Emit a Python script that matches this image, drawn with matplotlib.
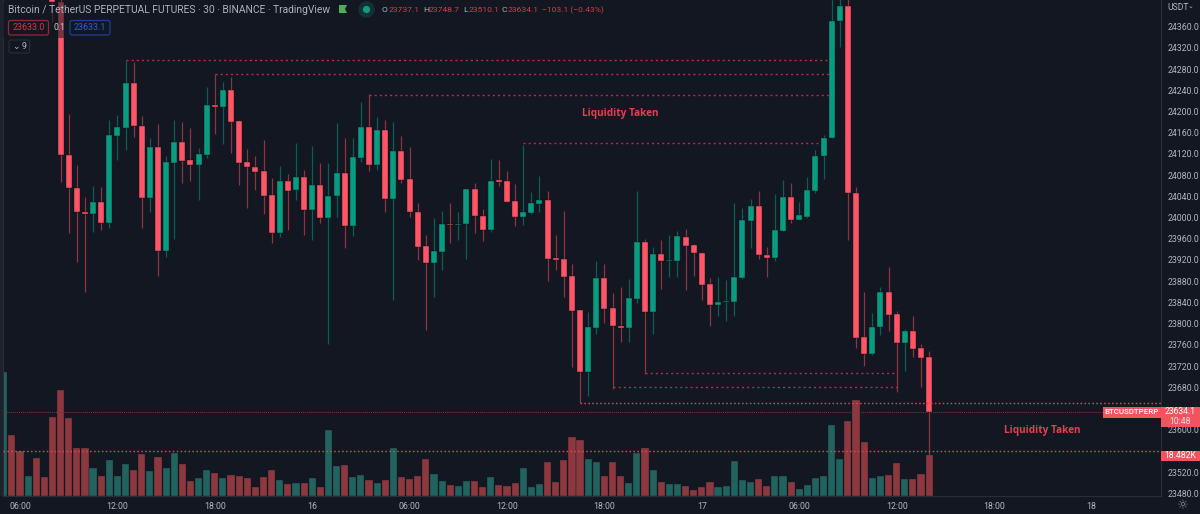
import numpy as np
import matplotlib
matplotlib.use("Agg")
import matplotlib.pyplot as plt
from matplotlib.patches import Rectangle, Polygon, FancyBboxPatch

plt.rcParams['font.family'] = ['Roboto', 'DejaVu Sans']

# --- data -----------------------------------------------------------------
first_bar = -2          # bar number of the first volume column (0 = 06:00)
first_candle = 4        # first candle that reaches the visible price range

opens = [24420,24407,24117.8,24055,24010.2,24007.1,24028.5,23989.5,24154.3,24169.4,24253,24173.2,24036,24132.9,23936.7,24103.3,24141.7,24108.4,24098.3,24117.8,24211.5,24208.4,24240.5,24182,24104,24095.8,24087,24042.3,23971.3,24069.4,24051.1,24075.7,24013.4,24060.6,23998.9,24039.8,24084.5,23983.8,24112.2,24170.6,24098.3,24165.6,24034.8,24125.4,24071.9,24010.9,23946.1,23913.4,23934.8,23988.2,23985.1,23987.6,24053.6,24003.3,23976.3,24070,24069.4,24030.4,24000.8,24008.4,24024.7,24032.3,23922.8,23922.2,23889.5,23825.3,23708.9,23792.6,23886.3,23828.5,23796.4,23791.4,23847.3,23953.6,23821.6,23931,23918.4,23918.4,23963.7,23948,23933.5,23873.8,23835.4,23840.4,23841,23886.3,23993.9,24021,23929.7,23923.5,23975,24037.9,23994.5,24001.4,24049.9,24116.6,24149.9,24370.7,24399,24046.7,23773.8,23743,23793.9,23858.7,23817.2,23764.3,23785.7,23753.6,23737.1]
closes = [24407,24117.8,24055,24009.6,24007.1,24028.5,23989.5,24155.6,24170.6,24253,24171.9,24036,24132.9,23936.7,24104,24141.7,24107.1,24098.3,24119.1,24211.5,24209,24240.5,24180.7,24103.3,24095.2,24086.4,24041.1,23971.3,24069.4,24050.5,24075.7,24013.4,24060.6,23998.3,24040.4,24084.5,23983.8,24113.4,24170.6,24099,24165.6,24034.8,24125.4,24070.6,24009.6,23944.8,23913.4,23936,23988.2,23985.1,23988.2,24053.6,24002.1,23976.3,24069.4,24067.5,24029.8,24000.8,24009.6,24026.6,24032.3,23922.2,23919.7,23888.2,23824,23708.9,23793.9,23886.3,23827.2,23795.1,23791.4,23848.6,23953.6,23821.6,23931,23917.2,23919.7,23965,23946.1,23932.3,23872.5,23835.4,23841,23842.3,23887,23994.5,24021,23929.1,23923.5,23975.6,24037.9,23995.2,24004.6,24051.1,24116.6,24150.5,24371.3,24399,24046.7,23772.5,23743,23794.5,23858.7,23816.5,23764.3,23785.7,23753,23735.4,23634.1]
highs = [24425,24420,24195.2,24099,24038,24059.3,24058,24183.9,24193.3,24297,24294,24191.4,24149.3,24175.7,24116,24183.9,24180.7,24168.1,24130.4,24245.5,24270.7,24256.2,24264.4,24183.9,24128.5,24116,24146.1,24073.8,24097,24082,24139.8,24089.5,24134.8,24102,24103.3,24177.6,24149.3,24149.3,24218.5,24232.9,24188.9,24183.9,24180.7,24154.3,24133.5,24026.6,23966.9,23998.3,24012.2,24027.2,24009.6,24053.6,24065.6,24016,24110.3,24108.4,24087.6,24063.1,24136.7,24048,24078.2,24049.9,23966.9,24012.2,23911.5,23825.3,23822.2,23917.2,23912.1,23858,23869.4,23883.2,24049.9,23958.7,23943.6,23957.4,23966.2,23975,23977.5,23949.9,23934.8,23885.7,23888.2,23881.9,24026.6,24017.2,24034.8,24049.9,23944.8,24043.6,24070.6,24065.6,24029.8,24077,24127.2,24155.6,24416.6,24425,24425,24056.8,23860,23819.7,23868.1,23907.1,23824,23790.7,23814.6,23761.2,23748.7]
lows = [24369.4,24067.5,23970,23916,23860,23973.2,23976.3,23980.7,24108.4,24127.2,24152.4,23979.4,24009.6,23890.1,23926,23958.7,24064.4,24069.4,24032.9,24111.5,24157.4,24138.6,24122.2,24061.2,24017.2,24051.8,24005.8,23951.1,23963.7,23976.3,24032.9,23966.9,23957.4,23990.1,23762.4,24001.4,23943,23965,24105.2,24088.2,24089.5,24009.6,23844.2,24064.4,24001.6,23919.7,23787.6,23850.5,23900.8,23952.4,23957.4,23921,23970,23954.9,23973.2,24059.3,24029.8,23984.5,23985.7,24005.8,24010.9,23880.7,23900.8,23850.5,23718.4,23649.8,23664.3,23780,23801.4,23677.5,23766.2,23766.2,23839.2,23704.6,23781.3,23866.2,23888.2,23888.2,23863.1,23889.5,23844.2,23795.1,23814,23805.2,23814.6,23883.2,23943,23921,23887,23917.2,23975,23988.9,23994.5,23998.3,24046.7,24072.5,24149.9,24322.2,23957.4,23753.6,23720.3,23741.1,23778.2,23786.3,23671.8,23710.8,23737.9,23680.7,23510.1]

# volume in thousands
volumes = [55.7,27.3,20.3,8.9,17.3,8.6,35.6,47.5,35.0,21.6,21.5,12.5,8.9,16.1,9.2,14.3,11.6,18.9,11.3,17.6,12.5,19.4,14.6,6.9,8.0,11.6,10.4,8.0,9.5,9.2,8.0,4.2,8.6,11.6,7.2,5.4,5.8,6.0,8.3,4.2,29.4,13.4,14.0,8.6,9.5,7.5,5.8,7.5,21.5,8.6,7.7,8.9,16.7,10.1,6.9,5.1,4.8,6.9,6.9,4.2,8.6,5.1,4.8,5.8,12.5,4.2,5.4,15.5,6.6,16.1,26.5,25.0,16.7,15.5,9.2,15.2,9.2,5.8,19.4,21.6,11.6,6.3,5.4,5.4,4.5,2.8,4.2,6.6,4.2,4.5,15.8,7.5,6.3,7.7,4.8,9.2,8.9,6.6,3.3,5.1,8.3,9.2,31.9,16.7,33.7,43.2,24.3,8.3,8.9,9.5,14.9,7.7,7.7,9.8,18.482]
early_up = [True, False, False, True, False, False]   # direction of the bars before first_candle

price_ticks = [23480 + 40 * k for k in range(23)]
hidden_ticks = [23560, 23640]   # covered by the price labels
time_positions = [0, 12, 24, 36, 48, 60, 72, 84, 96, 108, 120, 132]
time_labels = ['06:00', '12:00', '18:00', '16', '06:00', '12:00', '18:00', '17', '06:00', '12:00', '18:00', '18']

# drawn levels: price, first bar, last bar
thin_levels = [(24296.5, 13, 100), (24270.7, 24, 100), (24231.0, 43, 100), (24139.8, 62, 99),
               (23706.4, 77, 108), (23680.0, 73, 108)]
wide_levels = [(23649.8, 69), (23559.3, -3)]
last_price = 23634.1

# --- style ----------------------------------------------------------------
BG = '#121722'
UP, DOWN = '#089c80', '#ff5566'
UP_WICK, DOWN_WICK = '#0b5f52', '#8c3440'
UP_VOL, DOWN_VOL = '#21635f', '#8d383e'
GRID = '#2a2e39'
TXT = '#b2b5be'
LEVEL = '#b52f42'

W, H = 1200, 514
fig = plt.figure(figsize=(W / 100, H / 100), dpi=100, facecolor=BG)
rect = [3 / W, 1 - 496.3 / H, (1161 - 3) / W, 496.3 / H]

xlim = (-2.094, 140.57)
ylim = (23474.3, 24410.3)

vax = fig.add_axes(rect, facecolor=BG, zorder=1)
ax = fig.add_axes(rect, facecolor='none', zorder=2)

# volume
vol_x = np.arange(first_bar, first_bar + len(volumes))
up_flags = list(early_up) + [c >= o for o, c in zip(opens, closes)]
vax.bar(vol_x, volumes, width=0.88, color=[UP_VOL if u else DOWN_VOL for u in up_flags],
        edgecolor=BG, linewidth=0.25, zorder=2)
vax.set_xlim(*xlim)
vax.set_ylim(0, 221.7)
vax.axis('off')

# candles
cx = np.arange(first_candle, first_candle + len(opens))
o, c, hi, lo = map(np.array, (opens, closes, highs, lows))
up = c >= o
ax.vlines(cx, lo, hi, colors=[UP_WICK if u else DOWN_WICK for u in up], linewidth=0.9, zorder=3)
body_h = np.maximum(np.abs(c - o), 2.0)
ax.bar(cx, body_h, bottom=np.minimum(o, c), width=0.74,
       color=[UP if u else DOWN for u in up], edgecolor='#0d1119', linewidth=0.3, zorder=4)

# last-price line and levels
ax.axhline(last_price, color='#7c3540', linewidth=0.7, linestyle=(0, (1, 1)), zorder=2)
for price, x0, x1 in thin_levels:
    ax.plot([x0, x1], [price, price], color=LEVEL, linewidth=1.0, linestyle=(0, (1.5, 2.2)), zorder=3)
for price, x0 in wide_levels:
    ax.plot([x0, xlim[1]], [price, price], color='#e0434f', linewidth=1.05, linestyle=(0, (1.1, 1.6)), zorder=5)

ax.set_xlim(*xlim)
ax.set_ylim(*ylim)
ax.yaxis.tick_right()
ax.set_yticks(price_ticks)
ax.set_yticklabels(['' if p in hidden_ticks else f'{p:.1f}' for p in price_ticks])
ax.set_xticks(time_positions)
ax.set_xticklabels(time_labels)
ax.tick_params(axis='both', length=0, colors=TXT, labelsize=6.3)
ax.tick_params(axis='y', pad=4.5)
ax.tick_params(axis='x', pad=4)
for s in ('top',):
    ax.spines[s].set_visible(False)
for s in ('left', 'right', 'bottom'):
    ax.spines[s].set_color(GRID)
    ax.spines[s].set_linewidth(0.8)

# annotations
ax.text(74, 24196, 'Liquidity Taken', color='#e5404f', fontsize=7.2, fontweight='bold',
        ha='center', va='center', family=['Open Sans', 'DejaVu Sans'], zorder=6)
ax.text(126, 23598, 'Liquidity Taken', color='#e5404f', fontsize=7.2, fontweight='bold',
        ha='center', va='center', family=['Open Sans', 'DejaVu Sans'], zorder=6)


# --- overlay in pixel positions -------------------------------------------
def fx(x):
    return x / W


def fy(y):
    return 1 - y / H


def add_rect(x0, y0, x1, y1, z=6, **kw):
    p = Rectangle((fx(x0), fy(y1)), (x1 - x0) / W, (y1 - y0) / H, transform=fig.transFigure, zorder=z, **kw)
    fig.add_artist(p)


def add_round(x0, y0, x1, y1, z=8, **kw):
    p = FancyBboxPatch((x0, H - y1), x1 - x0, y1 - y0, boxstyle='round,pad=0,rounding_size=2',
                       transform=None, zorder=z, **kw)
    fig.add_artist(p)


def label(x, y, s, color=TXT, size=6.4, ha='left', z=9, **kw):
    fig.text(fx(x), fy(y), s, color=color, fontsize=size, ha=ha, va='center', zorder=z, **kw)


add_rect(0, 0, 3, 496, z=6, facecolor='#1e222d', edgecolor='none')
add_rect(3, 2, 340, 38, z=6, facecolor=BG, alpha=0.55, edgecolor='none')

label(8, 9.7, 'Bitcoin / TetherUS PERPETUAL FUTURES · 30 · BINANCE · TradingView', color='#aeb1ba', size=7.4)
fig.add_artist(Polygon([(fx(339), fy(5)), (fx(347), fy(5)), (fx(345), fy(9)), (fx(347), fy(13)), (fx(339), fy(13))],
                       closed=True, transform=fig.transFigure, facecolor='#4caf50', edgecolor='none', zorder=9))
fig.add_artist(plt.Line2D([fx(365.5)], [fy(9.3)], marker='o', markersize=11, color='#153035', transform=fig.transFigure, zorder=8))
fig.add_artist(plt.Line2D([fx(365.5)], [fy(9.3)], marker='o', markersize=4.2, color='#0f9b80', transform=fig.transFigure, zorder=9))

ohlc = [(382, 'O', 388.5, '23737.1'), (423, 'H', 429, '23748.7'), (463, 'L', 468.5, '23510.1'), (502, 'C', 508, '23634.1')]
for x, letter, xv, value in ohlc:
    label(x, 10, letter, size=6.1)
    label(xv, 10, value, color='#d8394a', size=6.1)
label(542, 10, '−103.1 (−0.43%)', color='#d8394a', size=6.1)

add_round(8.5, 20.5, 48.5, 35, edgecolor='#8f2a36', facecolor=BG, linewidth=0.9)
label(28.5, 28, '23633.0', color='#e02f42', size=6.4, ha='center')
label(59, 28, '0.1', color='#c8cad0', size=6.2, ha='center')
add_round(70, 20.5, 110, 35, edgecolor='#1d3f9a', facecolor=BG, linewidth=0.9)
label(90, 28, '23633.1', color='#2a5ee0', size=6.4, ha='center')
add_round(9, 40, 29.5, 53, edgecolor='#2a2e39', facecolor=BG, linewidth=0.8)
label(15.5, 46.5, '⌄', size=6.5, ha='center', family=['DejaVu Sans'])
label(24, 46.5, '9', size=6.4, ha='center')

label(1167.5, 7, 'USDT', size=6.2)
label(1188, 6.5, '⌄', size=5, family=['DejaVu Sans'])

add_rect(1103, 407, 1160.5, 417.5, z=8, facecolor='#f2545f', edgecolor='none')
label(1131.8, 412.3, 'BTCUSDTPERP', color='white', size=5.7, ha='center', fontweight='medium')
add_rect(1161, 407, 1200, 426.5, z=8, facecolor='#f2545f', edgecolor='none')
label(1180.5, 412, '23634.1', color='white', size=6.2, ha='center')
label(1180.5, 421, '10:48', color='#ffe0e0', size=6.2, ha='center')
add_rect(1161, 450.5, 1200, 461, z=8, facecolor='#f2545f', edgecolor='none')
label(1180.5, 455.6, '18.482K', color='white', size=6.2, ha='center')

label(1182.5, 505.5, '☼', color='#8a8e99', size=9.5, ha='center', family=['DejaVu Sans'])

fig.savefig('out.png', dpi=100, facecolor=BG)
